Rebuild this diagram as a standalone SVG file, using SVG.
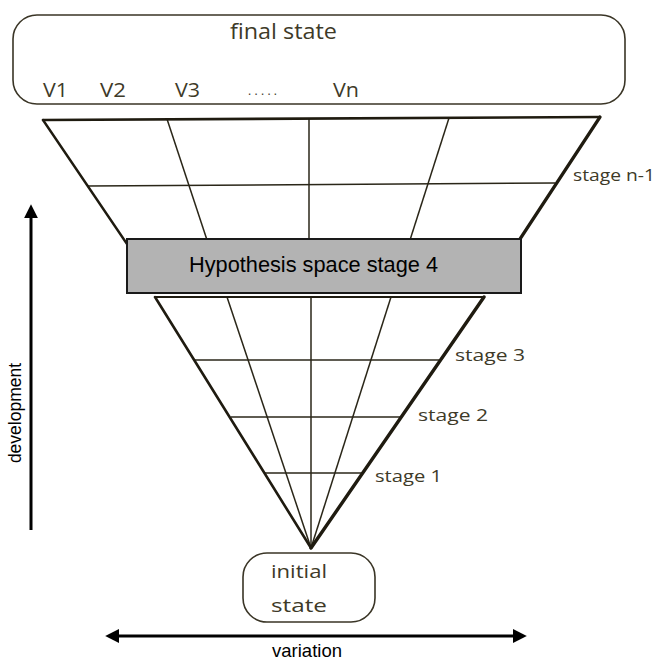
<svg xmlns="http://www.w3.org/2000/svg" width="658" height="661" viewBox="0 0 658 661">
  <style>
    .frame { fill: #ffffff; stroke: #3a3526; stroke-width: 1.6; }
    .edge { stroke: #1f1b10; fill: none; stroke-linecap: round; }
    .grid { stroke: #2a2618; fill: none; stroke-width: 1.5; }
    .lbl { font-family: "Open Sans", "DejaVu Sans", sans-serif; font-weight: 400; fill: #3e3a28; }
    .sans { font-family: "Liberation Sans", Arial, sans-serif; fill: #000000; }
    .arrow { stroke: #000000; stroke-width: 3; fill: none; }
  </style>
  <defs>
    <marker id="ah" viewBox="0 0 10 10" refX="3" refY="5" markerWidth="14" markerHeight="14" markerUnits="userSpaceOnUse" orient="auto-start-reverse">
      <path d="M0,0 L10,5 L0,10 z" fill="#000000"/>
    </marker>
  </defs>
  <rect width="658" height="661" fill="#ffffff"/>

  <g id="final-state">
    <rect class="frame" x="13" y="15" width="612" height="89" rx="24" ry="24"/>
    <text class="lbl" x="230" y="39" font-size="21" textLength="107" lengthAdjust="spacingAndGlyphs">final state</text>
    <text class="lbl" x="43" y="97" font-size="20" textLength="25" lengthAdjust="spacingAndGlyphs">V1</text>
    <text class="lbl" x="100" y="97" font-size="20" textLength="26" lengthAdjust="spacingAndGlyphs">V2</text>
    <text class="lbl" x="175" y="97" font-size="20" textLength="25" lengthAdjust="spacingAndGlyphs">V3</text>
    <text class="lbl" x="248" y="95" font-size="12" textLength="29" lengthAdjust="spacing">.....</text>
    <text class="lbl" x="333" y="97" font-size="20" textLength="26" lengthAdjust="spacingAndGlyphs">Vn</text>
  </g>

  <g id="upper-space">
    <line class="grid" x1="88" y1="186" x2="555" y2="183"/>
    <line class="grid" x1="167" y1="119" x2="207" y2="240"/>
    <line class="grid" x1="309" y1="118" x2="309" y2="240"/>
    <line class="grid" x1="449" y1="118" x2="410" y2="240"/>
    <line class="edge" x1="43" y1="120" x2="600" y2="117" stroke-width="2.6"/>
    <line class="edge" x1="43" y1="120" x2="127" y2="244" stroke-width="2.4"/>
    <line class="edge" x1="600" y1="117" x2="520" y2="239" stroke-width="3.2"/>
    <text class="lbl" x="573" y="181" font-size="17" textLength="82" lengthAdjust="spacingAndGlyphs">stage n-1</text>
  </g>

  <g id="lower-space">
    <line class="grid" x1="195" y1="360" x2="440" y2="360"/>
    <line class="grid" x1="231" y1="417" x2="400" y2="417"/>
    <line class="grid" x1="265" y1="473" x2="362" y2="473"/>
    <line class="grid" x1="227" y1="297" x2="311" y2="548"/>
    <line class="grid" x1="311" y1="297" x2="311" y2="548"/>
    <line class="grid" x1="391" y1="297" x2="311" y2="548"/>
    <line class="edge" x1="155" y1="297" x2="484" y2="297" stroke-width="2"/>
    <line class="edge" x1="155" y1="297" x2="311" y2="548" stroke-width="2.6"/>
    <line class="edge" x1="484" y1="297" x2="311" y2="548" stroke-width="3.4"/>
    <text class="lbl" x="455" y="361" font-size="17" textLength="70" lengthAdjust="spacingAndGlyphs">stage 3</text>
    <text class="lbl" x="418" y="421" font-size="17" textLength="70" lengthAdjust="spacingAndGlyphs">stage 2</text>
    <text class="lbl" x="375" y="482" font-size="17" textLength="67" lengthAdjust="spacingAndGlyphs">stage 1</text>
  </g>

  <g id="hypothesis-stage-4">
    <rect x="127" y="239" width="394" height="54" fill="#b3b3b3" stroke="#1a1a1a" stroke-width="2"/>
    <text class="sans" x="189" y="272" font-size="21.5" textLength="249" lengthAdjust="spacingAndGlyphs">Hypothesis space stage 4</text>
  </g>

  <g id="initial-state">
    <rect class="frame" x="243" y="553" width="132" height="69" rx="24" ry="24"/>
    <text class="lbl" x="271" y="578" font-size="19" textLength="56" lengthAdjust="spacingAndGlyphs">initial</text>
    <text class="lbl" x="271" y="612" font-size="19" textLength="56" lengthAdjust="spacingAndGlyphs">state</text>
  </g>

  <g id="connectors">
    <line class="arrow" x1="31" y1="530" x2="31" y2="214" marker-end="url(#ah)"/>
    <line class="arrow" x1="115" y1="636" x2="517" y2="636" marker-start="url(#ah)" marker-end="url(#ah)"/>
  </g>

  <g id="axis-labels">
    <text class="sans" x="15" y="413" font-size="17.5" text-anchor="middle" dominant-baseline="central" transform="rotate(-90 15 413)">development</text>
    <text class="sans" x="307" y="657" font-size="18.5" text-anchor="middle">variation</text>
  </g>
</svg>
